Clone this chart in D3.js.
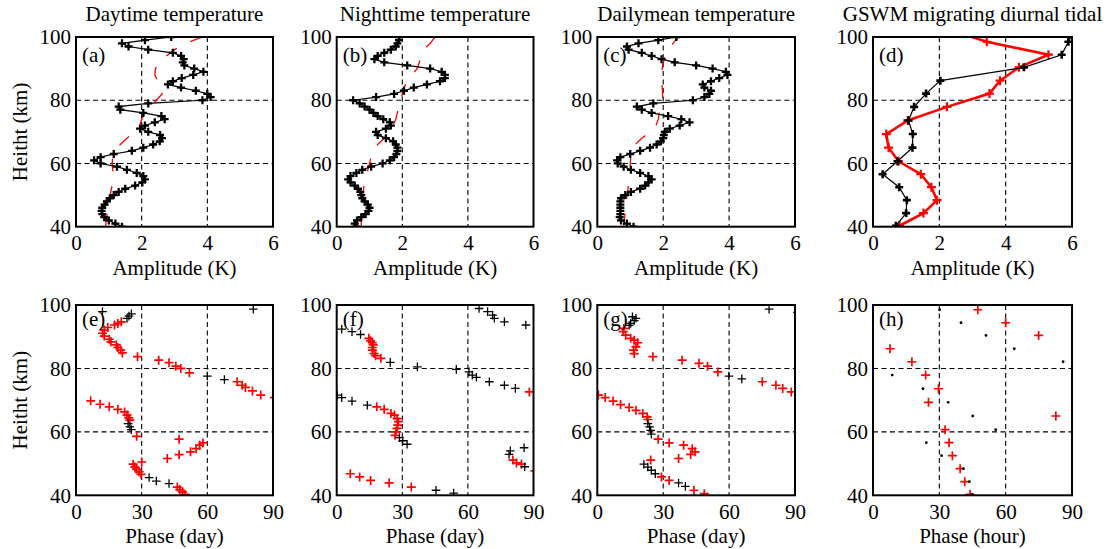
<!DOCTYPE html>
<html>
<head>
<meta charset="utf-8">
<script src="https://cdn.jsdelivr.net/npm/d3@7"></script>
<style>
  body { margin:0; background:#fff; }
  text { font-family:"Liberation Serif","Times New Roman","DejaVu Serif",serif; font-size:21px; fill:#000; }
</style>
</head>
<body>
<script>
// height grids (km) of the lidar profiles
var km1 = d3.range(40, 101, 1);
var km2 = d3.range(40, 101, 2);

// amplitude profiles (K), 40..100 km every 1 km
var aBlack = [1.4,1.2,1.0,0.86,0.8,0.78,0.8,0.87,0.94,1.03, 1.15,1.3,1.5,1.8,2.02,2.1,2.05,1.85,1.55,1.25,
  0.75,0.55,0.75,1.15,1.7,2.05,2.35,2.55,2.62,2.56, 2.2,1.95,2.1,2.4,2.7,2.6,2.05,1.35,1.3,2.2,
  3.85,4.1,4.0,3.65,3.2,2.8,2.95,3.22,3.57,3.88, 3.6,3.3,3.25,3.28,3.2,2.95,2.2,1.6,1.4,2.1, 2.9];
var bBlack = [0.6,0.55,0.62,0.75,0.88,0.97,1.0,0.95,0.85,0.78, 0.75,0.72,0.65,0.55,0.42,0.35,0.42,0.6,0.78,1.05,
  1.4,1.62,1.75,1.82,1.85,1.85,1.8,1.72,1.5,1.25, 1.2,1.5,1.65,1.62,1.42,1.25,1.12,1.0,0.85,0.7,
  0.5,1.2,1.75,2.05,2.35,2.75,3.15,3.3,3.3,3.2, 2.85,2.15,1.45,1.15,1.25,1.45,1.65,1.8,1.85,1.9, 1.9];
var cBlack = [1.1,0.9,0.72,0.68,0.7,0.7,0.7,0.7,0.7,0.72, 0.85,1.02,1.3,1.45,1.55,1.65,1.55,1.3,1.02,0.8,
  0.62,0.6,0.7,1.0,1.3,1.6,1.8,1.93,2.0,2.02, 2.05,2.2,2.5,2.8,2.55,2.15,1.65,1.35,1.2,1.7,
  2.9,3.25,3.4,3.45,3.25,3.2,3.45,3.7,3.95,3.9, 3.5,3.0,2.35,1.95,1.65,1.35,0.95,0.9,1.25,1.85, 2.4];

// red dashed profiles, 40..100 km every 2 km
var aRed = [0.9,0.92,0.95,0.98,1.0,1.04,1.08,1.12,1.14,1.12, 1.1,1.12,1.2,1.35,1.55,1.8,1.94,2.0,2.1,2.28,
  2.45,2.62,2.63,2.5,2.4,2.42,2.55,2.75,3.0,3.35, 3.85];
var bRed = [0.75,0.75,0.77,0.78,0.8,0.8,0.82,0.85,0.9,0.95, 1.0,1.05,1.1,1.25,1.45,1.6,1.72,1.8,1.85,1.9,
  1.95,2.0,2.05,2.15,2.3,2.45,2.52,2.58,2.65,2.85, 3.0];
var cRed = [0.8,0.82,0.84,0.86,0.88,0.9,0.93,0.96,0.98,1.0, 1.0,1.02,1.06,1.15,1.35,1.6,1.78,1.85,1.88,1.93,
  1.98,1.98,1.97,1.96,1.95,1.97,2.0,2.07,2.15,2.3, 2.45];

// GSWM levels (km)
var gswmKm = [40.3,44.3,48.4,52.5,56.6,60.7,65.0,69.3,73.6,77.9,82.1,86.2,90.4,94.4,98.5,102.6];
var dBlack = [0.69,1.0,1.02,0.79,0.29,0.74,1.19,1.2,1.07,1.24,1.6,2.03,4.55,5.69,5.89,6.1];
var dRed   = [0.8,1.52,1.93,1.76,1.44,0.77,0.47,0.4,1.05,2.23,3.51,3.83,4.4,5.29,3.43,2.2];
var hBlack = [44.8,43.6,40.9,31,24.1,55.5,45.1,34,22.6,8.7,86,63.9,51.1,39.8,30.1];
var hRed   = [43.9,41.5,39.4,35.9,34.4,32.6,82.7,25.1,29.6,23.8,17.6,7.7,74.9,60,47.4];

// phase scatter, [phase (day), height (km)]
var eBlack = [[12.1,97.9],[25.3,97.2],[24.2,96.5],[23.3,95.8],[81,98.7],[60,77.6],[67.8,76.5],
  [23.8,62.6],[24.6,61.6],[25.3,60.7],[33.4,45.6],[36.7,44.5],[42.5,43.7]];
var eRed = [[20.7,94.7],[19.1,94.2],[17.6,93.7],[14.5,92.9],[12.9,92.1],[12.1,91.1],[12.9,90.2],[15.2,89.2],
  [16.0,88.4],[18.4,87.4],[19.1,86.6],[20.4,85.8],[21.2,84.9],[28.1,83.7],[37.8,82.6],[42.5,81.8],
  [45.6,80.7],[47.9,80.0],[51.8,78.6],[73.6,75.8],[75.9,74.7],[77.4,74.0],[80.6,72.9],[84.4,71.6],
  [90.7,70.8],[6.7,69.8],[11.0,68.7],[15.2,67.9],[19.1,67.1],[22.2,66.3],[23.3,65.3],[24.1,64.4],
  [24.6,63.7],[27.7,58.6],[47.1,57.7],[58.0,56.5],[56.5,55.8],[54.9,54.7],[52.3,53.7],[47.1,52.8],
  [41.7,51.6],[30.0,50.5],[26.1,49.8],[26.9,48.9],[27.7,48.2],[28.8,47.4],[29.7,46.6],[46.3,42.6],
  [47.4,41.8],[48.7,41.1],[49.8,40.3]];
var fBlack = [[2.3,92.4],[7.0,91.6],[10.9,90.7],[24.5,81.9],[36.9,80.5],[54.7,79.7],[60.5,78.9],[62.0,77.9],
  [63.9,77.2],[69.8,75.8],[76.7,74.7],[81.7,73.7],[65.1,98.9],[69.0,97.9],[71.3,96.8],[72.1,95.8],
  [76.7,94.7],[86.5,93.7],[0.3,71.6],[2.3,70.8],[7.0,69.7],[14.0,68.4],[28.7,58.2],[30.2,57.2],
  [32.2,56.1],[79.4,54.0],[78.8,52.9],[85.7,55.0],[86.0,49.0],[45.4,41.6],[53.5,40.7]];
var fRed = [[14.7,89.5],[15.5,88.7],[16.3,88.1],[16.7,87.4],[16.3,86.6],[16.3,85.8],[17.1,84.7],[17.8,84.0],
  [20.2,83.2],[88.1,72.6],[18.3,67.9],[21.7,67.1],[24.8,65.8],[26.4,65.3],[27.6,64.2],[28.2,63.2],
  [27.9,62.1],[27.6,61.1],[27.1,60.0],[26.7,58.9],[80.6,51.1],[82.2,50.2],[84.5,49.8],[90.7,47.7],
  [6.2,46.8],[10.5,45.8],[15.5,44.7],[24.0,43.9],[34.1,42.6]];
var gBlack = [[16.0,96.3],[17.6,95.8],[16.8,95.1],[15.2,94.2],[14.5,93.6],[78.2,98.7],[91.1,97.7],
  [59.9,77.6],[65.8,76.7],[23.0,62.6],[23.8,61.6],[24.3,60.5],[24.6,59.3],[21.2,49.8],[23.0,48.9],
  [24.6,47.9],[26.4,46.8],[37.0,43.9],[40.1,42.8]];
var gRed = [[12.1,92.6],[11.8,91.6],[12.9,90.5],[15.2,89.5],[16.8,88.9],[18.4,88.1],[17.6,86.8],[16.5,85.8],
  [16.8,84.7],[25.3,83.7],[38.6,82.6],[46.3,81.6],[50.2,80.7],[54.9,78.9],[75.1,75.8],[81.3,74.7],
  [84.4,73.7],[88.3,72.6],[0.5,71.6],[3.6,70.8],[7.2,69.7],[10.6,68.6],[14.5,67.7],[17.6,66.8],
  [20.7,65.8],[22.7,64.7],[23.0,63.9],[27.7,57.7],[32.7,56.5],[39.3,55.8],[43.2,54.7],[44.5,53.7],
  [42.5,52.9],[37.0,51.6],[24.3,51.1],[29.2,45.8],[32.7,44.7],[44.0,41.6],[48.7,40.5]];

var titles = ["Daytime temperature","Nighttime temperature","Dailymean temperature","GSWM migrating diurnal tidal"];
var letters = ["(a)","(b)","(c)","(d)","(e)","(f)","(g)","(h)"];
var ampTicks = [0,2,4,6];
var phaseTicks = [0,30,60,90];
var kmTicks = [40,60,80,100];
var xNames = ["Amplitude (K)","Amplitude (K)","Amplitude (K)","Amplitude (K)",
  "Phase (day)","Phase (day)","Phase (day)","Phase (hour)"];

var svg = d3.select("body").append("svg").attr("width",1107).attr("height",549);

var cols = [[76,273],[336.7,533.5],[597.3,795],[873,1072]];
var rows = [[37,226.7],[305,495.3]];

function plus(s){ return "M"+(-s)+",0H"+s+"M0,"+(-s)+"V"+s; }

function makePanel(r, c){
  var k = r*4 + c;
  var ticks = r==0 ? ampTicks : phaseTicks;
  var x = d3.scaleLinear().domain([0, ticks[3]]).range(cols[c]);
  var y = d3.scaleLinear().domain([40,100]).range([rows[r][1], rows[r][0]]);
  var g = svg.append("g");

  svg.append("clipPath").attr("id","clip"+k).append("rect")
    .attr("x",cols[c][0]).attr("y",rows[r][0])
    .attr("width",cols[c][1]-cols[c][0]).attr("height",rows[r][1]-rows[r][0]);

  // dashed grid
  g.selectAll(".gx").data([ticks[1],ticks[2]]).enter().append("line")
    .attr("x1",function(d){return x(d);}).attr("x2",function(d){return x(d);})
    .attr("y1",rows[r][0]).attr("y2",rows[r][1])
    .attr("stroke","#000").attr("stroke-width",1.1).attr("stroke-dasharray","5,3.5");
  g.selectAll(".gy").data([60,80]).enter().append("line")
    .attr("y1",function(d){return y(d);}).attr("y2",function(d){return y(d);})
    .attr("x1",cols[c][0]).attr("x2",cols[c][1])
    .attr("stroke","#000").attr("stroke-width",1.1).attr("stroke-dasharray","5,3.5");

  var plot = svg.append("g").attr("clip-path","url(#clip"+k+")");

  // axes
  var ax = svg.append("g").attr("transform","translate(0,"+rows[r][1]+")")
    .call(d3.axisBottom(x).tickValues(ticks).tickSize(0).tickPadding(8.6).tickFormat(d3.format("d")));
  var ay = svg.append("g").attr("transform","translate("+cols[c][0]+",0)")
    .call(d3.axisLeft(y).tickValues(kmTicks).tickSize(0).tickPadding(5).tickFormat(d3.format("d")));
  [ax,ay].forEach(function(a){
    a.select(".domain").remove();
    a.attr("font-size",null).attr("font-family",null);
    a.selectAll("text").attr("fill","#000");
  });

  svg.append("text").attr("x",(cols[c][0]+cols[c][1])/2).attr("y",rows[r][1]+48)
    .attr("text-anchor","middle").text(xNames[k]);
  svg.append("text").attr("x",cols[c][0]+6).attr("y",rows[r][0]+(r==0?25:21)).text(letters[k]);
  if (r==0) svg.append("text").attr("x",(cols[c][0]+cols[c][1])/2).attr("y",21)
    .attr("text-anchor","middle").text(titles[c]);
  if (c==0) svg.append("text")
    .attr("transform","translate(27,"+((rows[r][0]+rows[r][1])/2)+") rotate(-90)")
    .attr("text-anchor","middle").text("Heitht (km)");

  return {x:x, y:y, plot:plot, r:r, c:c};
}

var panels = [];
for (var r=0;r<2;r++) for (var c=0;c<4;c++) panels.push(makePanel(r,c));

function profile(p, amps, kms, color, width, dash){
  var line = d3.line().x(function(d,i){return p.x(d);}).y(function(d,i){return p.y(kms[i]);});
  p.plot.append("path").datum(amps).attr("d",line).attr("fill","none")
    .attr("stroke",color).attr("stroke-width",width).attr("stroke-dasharray",dash||null);
}
function markers(p, pts, color, size, width){
  p.plot.selectAll(null).data(pts).enter().append("path")
    .attr("d",plus(size))
    .attr("transform",function(d){return "translate("+p.x(d[0])+","+p.y(d[1])+")";})
    .attr("stroke",color).attr("stroke-width",width).attr("fill","none");
}
function pairs(vals, kms){ return vals.map(function(v,i){return [v,kms[i]];}); }

// (a)-(c) lidar amplitude
[[aBlack,aRed],[bBlack,bRed],[cBlack,cRed]].forEach(function(s,i){
  var p = panels[i];
  profile(p, s[1], km2, "#ff0000", 1.3, "13,15");
  profile(p, s[0], km1, "#000", 1.2);
  markers(p, pairs(s[0],km1), "#000", 4, 2.3);
});

// (d) GSWM amplitude
profile(panels[3], dRed, gswmKm, "#ff0000", 2.6);
markers(panels[3], pairs(dRed,gswmKm), "#ff0000", 4.5, 2.2);
profile(panels[3], dBlack, gswmKm, "#000", 1.2);
markers(panels[3], pairs(dBlack,gswmKm), "#000", 4, 2.6);

// (e)-(g) phase
[[eBlack,eRed],[fBlack,fRed],[gBlack,gRed]].forEach(function(s,i){
  var p = panels[4+i];
  markers(p, s[1], "#ff0000", 4.5, 1.7);
  markers(p, s[0], "#000", 4.3, 1.3);
});

// (h) GSWM phase
markers(panels[7], pairs(hRed, gswmKm), "#ff0000", 4.5, 1.7);
panels[7].plot.selectAll(null).data(pairs(hBlack, gswmKm)).enter().append("circle")
  .attr("cx",function(d){return panels[7].x(d[0]);})
  .attr("cy",function(d){return panels[7].y(d[1]);})
  .attr("r",1.4).attr("fill","#000");

// frames on top
panels.forEach(function(p){
  svg.append("rect").attr("x",cols[p.c][0]).attr("y",rows[p.r][0])
    .attr("width",cols[p.c][1]-cols[p.c][0]).attr("height",rows[p.r][1]-rows[p.r][0])
    .attr("fill","none").attr("stroke","#000").attr("stroke-width",2);
});
</script>
</body>
</html>
